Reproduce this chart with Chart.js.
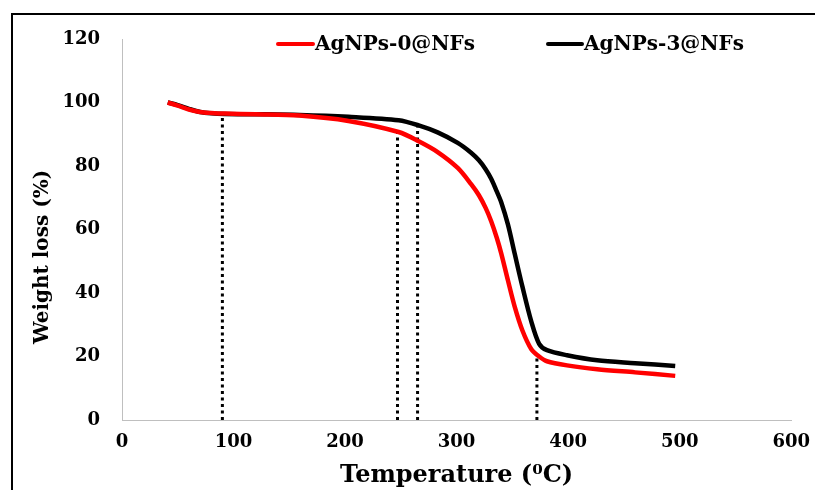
<!DOCTYPE html>
<html>
<head>
<meta charset="utf-8">
<script src="https://cdn.jsdelivr.net/npm/chart.js@4/dist/chart.umd.min.js"></script>
<style>
  html, body { margin: 0; padding: 0; background: #fff; overflow: hidden; }
  #wrap { position: relative; width: 815px; height: 490px; overflow: hidden; }
  #frame { position: absolute; left: 11px; top: 13px; width: 900px; height: 600px; border-top: 2px solid #000; border-left: 2px solid #000; pointer-events: none; }
  canvas { position: absolute; left: 0; top: 0; }
</style>
</head>
<body>
<div id="wrap">
  <canvas id="tgaChart" width="815" height="490"></canvas>
  <div id="frame"></div>
</div>
<script>
// temperature (°C) and weight (%)
const temps = [41, 50, 60, 70, 80, 92, 120, 159, 203, 248, 266, 283, 301, 313, 320, 326, 331, 336, 340, 346, 352, 359, 367, 374, 381, 399, 426, 460, 496];
const weightNF0 = [100, 99, 97.8, 97, 96.7, 96.5, 96.3, 95.9, 94.2, 90.7, 87.8, 84.4, 79.4, 74.3, 70.8, 66.8, 62.6, 57.4, 52.5, 44, 35.8, 28.2, 22.3, 20, 18.5, 17.2, 16, 15, 13.9];
const weightNF3 = [100, 99.2, 98, 97, 96.6, 96.4, 96.3, 96.1, 95.5, 94.4, 92.8, 90.6, 87.3, 84.2, 81.8, 79, 76, 72, 68.6, 61.6, 52.5, 42, 31, 24, 22, 20.4, 18.8, 17.9, 17];

// vertical dotted markers: temperature and top value
const markerTemps = [90, 247, 265, 372];
const markerTops = [95.7, 90.9, 92.6, 20.4];

const xTicks = [0, 100, 200, 300, 400, 500, 600];
const yTicks = [0, 20, 40, 60, 80, 100, 120];

const seriesNames = ['AgNPs-0@NFs', 'AgNPs-3@NFs'];
const yTitle = 'Weight loss (%)';
const xTitle = 'Temperature (\u2070C)';

const FONT = "'DejaVu Serif', serif";

function toPoints(xs, ys) {
  return xs.map((x, i) => ({ x: x, y: ys[i] }));
}

const markerSets = markerTemps.map((t, i) => ({
  label: 'marker' + i,
  data: [{ x: t, y: 0 }, { x: t, y: markerTops[i] }],
  borderColor: '#000',
  borderWidth: 3,
  borderDash: [3, 3.5],
  pointRadius: 0,
  fill: false,
  order: 3
}));

const legendPlugin = {
  id: 'topLegend',
  afterDraw(chart) {
    const ctx = chart.ctx;
    const items = [
      { name: seriesNames[0], color: '#ff0000', x0: 278, x1: 313, tx: 315 },
      { name: seriesNames[1], color: '#000000', x0: 548, x1: 582, tx: 584 }
    ];
    ctx.save();
    ctx.font = 'bold 20px ' + FONT;
    ctx.textBaseline = 'middle';
    items.forEach((it) => {
      ctx.strokeStyle = it.color;
      ctx.lineWidth = 4;
      ctx.lineCap = 'round';
      ctx.beginPath();
      ctx.moveTo(it.x0, 44);
      ctx.lineTo(it.x1, 44);
      ctx.stroke();
      ctx.fillStyle = '#000';
      ctx.fillText(it.name, it.tx, 45);
    });
    // y axis title, sits a bit below the plot centre as in the original
    ctx.translate(43, 257);
    ctx.rotate(-Math.PI / 2);
    ctx.font = 'bold 20px ' + FONT;
    ctx.textAlign = 'center';
    ctx.fillText(yTitle, 0, 0);
    ctx.restore();
  }
};

new Chart(document.getElementById('tgaChart'), {
  type: 'line',
  data: {
    datasets: [
      {
        label: seriesNames[1],
        data: toPoints(temps, weightNF3),
        borderColor: '#000',
        borderWidth: 4.5,
        pointRadius: 0,
        tension: 0.3,
        fill: false,
        order: 2
      },
      {
        label: seriesNames[0],
        data: toPoints(temps, weightNF0),
        borderColor: '#ff0000',
        borderWidth: 4.5,
        pointRadius: 0,
        tension: 0.3,
        fill: false,
        order: 1
      },
      ...markerSets
    ]
  },
  options: {
    responsive: false,
    animation: false,
    layout: { padding: { top: 39, right: 20, left: 0, bottom: 0 } },
    plugins: {
      legend: { display: false },
      tooltip: { enabled: false }
    },
    scales: {
      x: {
        type: 'linear',
        min: 0,
        max: 600,
        afterBuildTicks: (scale) => { scale.ticks = xTicks.map((v) => ({ value: v })); },
        afterFit: (scale) => { scale.height = 70; },
        grid: { display: false, drawTicks: true, tickLength: 7, tickColor: '#bfbfbf' },
        border: { color: '#bfbfbf', width: 1 },
        ticks: {
          color: '#000',
          padding: 5,
          font: { family: FONT, size: 18, weight: 'bold' }
        },
        title: {
          display: true,
          text: xTitle,
          color: '#000',
          padding: { top: 0, bottom: 0 },
          font: { family: FONT, size: 24, weight: 'bold' }
        }
      },
      y: {
        min: 0,
        max: 120,
        afterBuildTicks: (scale) => { scale.ticks = yTicks.map((v) => ({ value: v })); },
        afterFit: (scale) => { scale.width = 122; },
        grid: { display: false, drawTicks: true, tickLength: 7, tickColor: '#bfbfbf' },
        border: { color: '#bfbfbf', width: 1 },
        ticks: {
          color: '#000',
          padding: 15,
          font: { family: FONT, size: 18, weight: 'bold' }
        }
      }
    }
  },
  plugins: [legendPlugin]
});
</script>
</body>
</html>
